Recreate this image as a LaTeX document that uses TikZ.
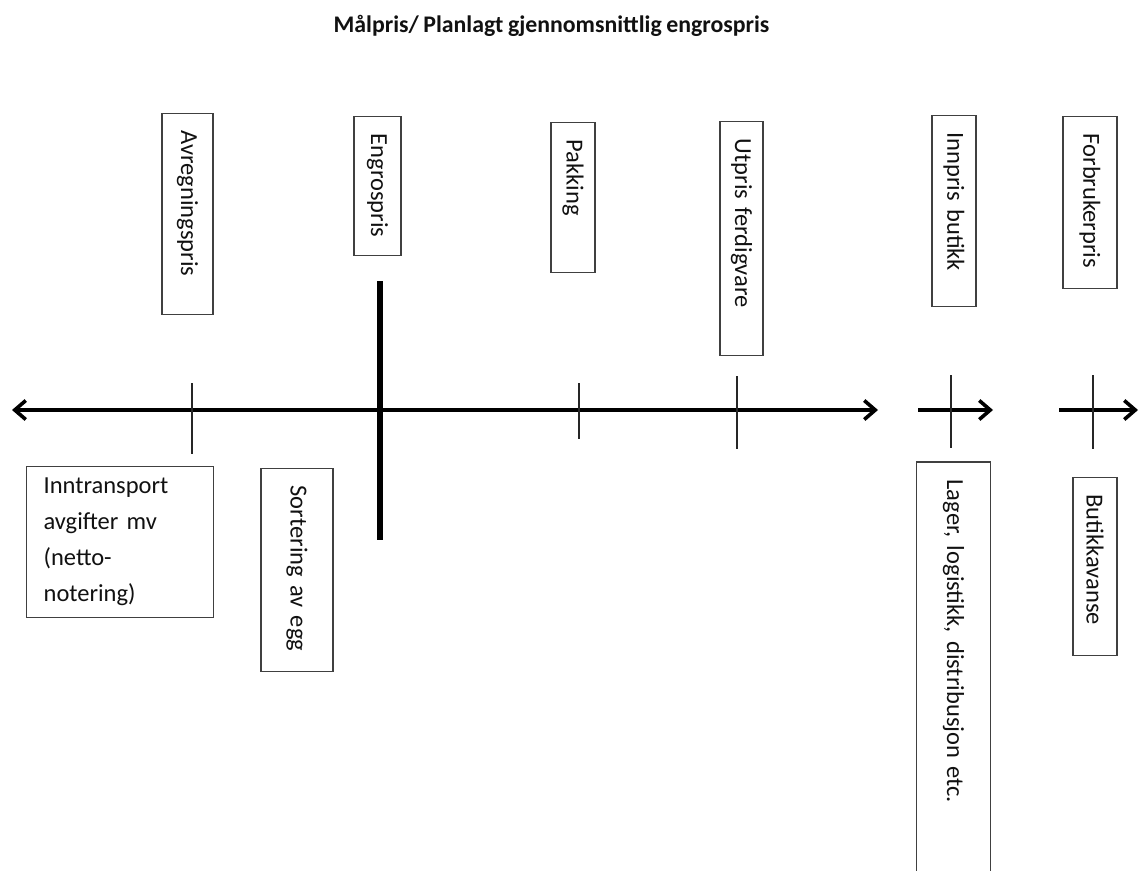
\documentclass[tikz,border=0pt]{standalone}
\usepackage{fontspec}
\setmainfont[WordSpace=0.85]{Carlito}
\usetikzlibrary{arrows.meta}
\definecolor{boxc}{HTML}{404040}
\definecolor{txt}{HTML}{111111}
\begin{document}
\begin{tikzpicture}[x=1pt,y=-1pt,
  box/.style={draw=boxc, line width=1.3pt, text=txt, font=\fontsize{24.5}{29}\selectfont},
  vbox/.style={box, rotate=-90, anchor=west, align=left, inner xsep=17pt, inner ysep=0pt},
  axis/.style={line width=3.6pt, line cap=butt},
  head/.style={-{Straight Barb[length=11pt,width=19pt,line width=3.6pt]}},
  tick/.style={line width=1.3pt, draw=black!85},
  thickbar/.style={line width=6pt}
]
\useasboundingbox (0,0) rectangle (1139,870);
\fill[white] (0,0) rectangle (1139,870);

% title
\node[font=\bfseries\fontsize{23.8}{28}\selectfont, text=txt, anchor=base] (title) at (551.5,32) {Målpris/ Planlagt gjennomsnittlig engrospris};

% upper boxes
\node[vbox, text width=167pt, minimum height=51pt] (avr) at (187.5,113) {Avregningspris};
\node[vbox, text width=105pt, minimum height=47pt] (eng) at (377.5,116) {Engrospris};
\node[vbox, text width=116pt, minimum height=44pt] (pak) at (573,122) {Pakking};
\node[vbox, text width=200pt, minimum height=43pt] (utp) at (741.5,121) {Utpris ferdigvare};
\node[vbox, text width=157pt, minimum height=44pt] (inp) at (954,115) {Innpris butikk};
\node[vbox, text width=138pt, minimum height=54pt] (for) at (1090,116) {Forbrukerpris};

% lower boxes
\node[box, anchor=north west, align=left, text width=153pt, inner xsep=17pt, inner ysep=0pt,
      minimum height=151pt, font=\fontsize{24.5}{36}\selectfont] (inn) at (26,466)
  {Inntransport\\avgifter mv\\(netto-\\notering)};
\node[vbox, text width=169pt, minimum height=72pt] (sor) at (297,468) {Sortering av egg};
\node[vbox, draw=none, text width=374pt, minimum height=73pt] (lag) at (953.5,462) {Lager, logistikk, distribusjon etc.};
\draw[draw=boxc, line width=1.3pt] (lag.south east) -- (lag.south west) -- (lag.north west) -- (lag.north east);
\node[vbox, text width=144pt, minimum height=44pt] (but) at (1095,477) {Butikkavanse};

% axis coordinates
\coordinate (a0) at (12,410);
\coordinate (a1) at (878,410);
\coordinate (b0) at (918,410);
\coordinate (b1) at (993,410);
\coordinate (c0) at (1059,410);
\coordinate (c1) at (1138,410);
\draw[axis, {Straight Barb[length=11pt,width=19pt,line width=3.6pt]}-{Straight Barb[length=11pt,width=19pt,line width=3.6pt]}] (a0) -- (a1);
\draw[axis, head] (b0) -- (b1);
\draw[axis, head] (c0) -- (c1);

% ticks
\coordinate (t1a) at (192,383); \coordinate (t1b) at (192,454);
\coordinate (t2a) at (579,383); \coordinate (t2b) at (579,439);
\coordinate (t3a) at (737,376); \coordinate (t3b) at (737,449);
\coordinate (t4a) at (951,375); \coordinate (t4b) at (951,448);
\coordinate (t5a) at (1093,375); \coordinate (t5b) at (1093,449);
\draw[tick] (t1a) -- (t1b);
\draw[tick] (t2a) -- (t2b);
\draw[tick] (t3a) -- (t3b);
\draw[tick] (t4a) -- (t4b);
\draw[tick] (t5a) -- (t5b);

% thick bar
\coordinate (k0) at (380,281);
\coordinate (k1) at (380,540);
\draw[thickbar] (k0) -- (k1);
\end{tikzpicture}
\end{document}
